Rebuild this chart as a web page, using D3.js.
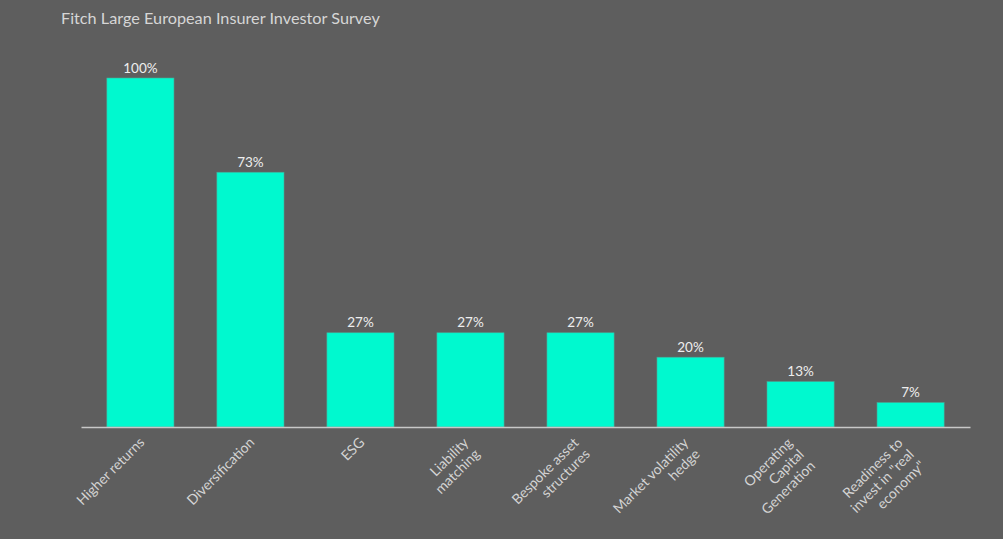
<!DOCTYPE html>
<html><head><meta charset="utf-8">
<script src="https://cdn.jsdelivr.net/npm/d3@7"></script>
<style>
html,body{margin:0;padding:0;background:#5e5e5e;}
svg{display:block;}
</style></head>
<body>
<script>
const title = "Fitch Large European Insurer Investor Survey";
const categories = [
  ["Higher returns"],
  ["Diversification"],
  ["ESG"],
  ["Liability", "matching"],
  ["Bespoke asset", "structures"],
  ["Market volatility", "hedge"],
  ["Operating", "Capital", "Generation"],
  ["Readiness to", "invest in \"real", "economy\""]
];
const values = [100, 73, 27, 27, 27, 20, 13, 7];
const valueLabels = ["100%", "73%", "27%", "27%", "27%", "20%", "13%", "7%"];

const W = 1003, H = 539;
const svg = d3.select("body").append("svg").attr("width", W).attr("height", H)
  .style("font-family", "Lato, sans-serif");
svg.append("rect").attr("width", W).attr("height", H).attr("fill", "#5e5e5e");

svg.append("text").attr("x", 61).attr("y", 23.5).text(title)
  .attr("fill", "#d6d6d6").attr("font-size", 16.25);

const plot = {left: 81, right: 970, top: 78, bottom: 427};
const idx = categories.map((c, i) => i);
const x = d3.scaleBand().domain(idx).range([plot.left, plot.right])
  .paddingInner(0.39).paddingOuter(0.235);
const y = d3.scaleLinear().domain([0, 100]).range([plot.bottom, plot.top]);

svg.selectAll("rect.bar").data(values).enter().append("rect")
  .attr("class", "bar")
  .attr("x", (d, i) => x(i))
  .attr("width", x.bandwidth())
  .attr("y", d => y(d))
  .attr("height", d => y(0) - y(d))
  .attr("fill", "#00f9cf")
  .attr("stroke", "#4aa895").attr("stroke-width", 0.6);

svg.selectAll("text.val").data(values).enter().append("text")
  .attr("class", "val")
  .attr("x", (d, i) => x(i) + x.bandwidth() / 2)
  .attr("y", d => y(d) - 5.5)
  .attr("text-anchor", "middle")
  .attr("fill", "#eeeeee").attr("font-size", 13.5)
  .text((d, i) => valueLabels[i]);

// axis
const axis = d3.axisBottom(x).tickSize(0).tickFormat("");
const ag = svg.append("g").attr("transform", `translate(0,${plot.bottom})`).call(axis);
ag.select(".domain").attr("stroke", "#c8c8c8").attr("stroke-width", 1.5);

const lh = 16;
const labG = svg.selectAll("g.lab").data(categories).enter().append("g")
  .attr("class", "lab")
  .attr("transform", (d, i) => `translate(${x(i) + x.bandwidth() / 2},${plot.bottom}) rotate(-45)`);
labG.each(function(lines) {
  const n = lines.length;
  const u = -8 - (n - 1) * 4.5;
  const v = 15 - (n - 1) * 4;
  const t = d3.select(this).append("text")
    .attr("text-anchor", "end")
    .attr("fill", "#d4d4d4").attr("font-size", 14);
  lines.forEach((ln, k) => {
    t.append("tspan").attr("x", u).attr("y", v + k * lh).text(ln);
  });
});
</script>
</body></html>
